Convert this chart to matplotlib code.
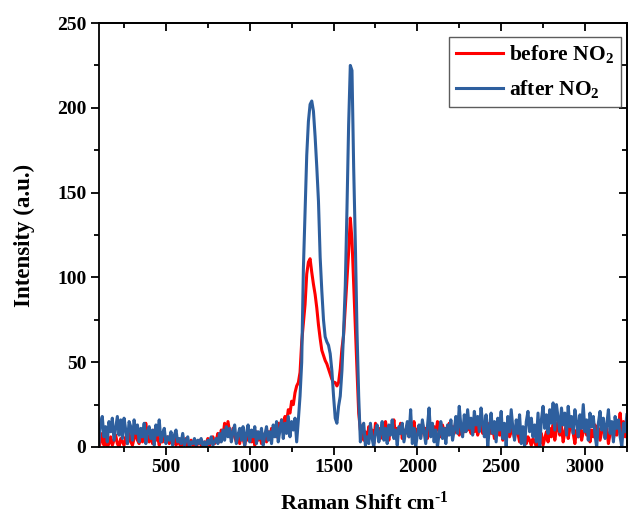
import numpy as np
import matplotlib
matplotlib.use("Agg")
import matplotlib.pyplot as plt
from matplotlib.ticker import MultipleLocator

# Raman shift sampling grid (cm^-1), one value every 10 cm^-1 from 100 to 3250
raman_shift = np.arange(100, 3251, 10)

# Intensity before NO2 exposure (red)
before_no2 = [
    0, 3, 8, 1, 5, 0, 2, 6, 1, 4,
    7, 2, 0, 5, 3, 1, 6, 2, 8, 3,
    1, 5, 9, 4, 2, 7, 3, 11, 14, 6,
    3, 8, 2, 10, 4, 6, 1, 5, 3, 7,
    4, 6, 2, 5, 3, 7, 1, 4, 2, 0,
    3, 1, 5, 0, 2, 4, 1, 3, 0, 2,
    4, 1, 0, 3, 2, 5, 1, 3, 6, 2,
    4, 8, 3, 10, 6, 14, 8, 15, 9, 5,
    11, 6, 3, 8, 2, 9, 5, 1, 7, 4,
    8, 3, 6, 1, 9, 4, 7, 2, 5, 8,
    3, 9, 5, 11, 7, 12, 6, 14, 10, 16,
    13, 18, 15, 22, 20, 27, 25, 32, 36, 38,
    44, 62, 73, 84, 102, 109, 111, 103, 96, 90,
    82, 72, 64, 57, 54, 51, 49, 46, 43, 40,
    38, 38, 36, 38, 46, 58, 66, 82, 98, 115,
    135, 122, 96, 70, 45, 20, 10, 7, 4, 9,
    3, 12, 6, 10, 2, 14, 8, 11, 5, 13,
    7, 15, 9, 4, 12, 8, 16, 6, 11, 9,
    14, 5, 10, 8, 13, 6, 11, 9, 15, 7,
    10, 12, 6, 14, 8, 11, 5, 13, 9, 7,
    12, 8, 15, 10, 6, 13, 9, 11, 7, 14,
    9, 12, 8, 16, 10, 7, 13, 11, 9, 14,
    10, 15, 8, 12, 9, 13, 7, 11, 14, 8,
    12, 6, 10, 14, 8, 11, 5, 9, 13, 7,
    10, 4, 12, 8, 14, 6, 9, 11, 5, 13,
    8, 3, 10, 5, 7, 2, 6, 4, 1, 5,
    3, 0, 6, 2, 8, 1, 5, 9, 3, 11,
    6, 13, 4, 10, 15, 7, 12, 3, 9, 14,
    5, 11, 16, 8, 2, 10, 6, 13, 4, 9,
    12, 7, 15, 3, 10, 6, 13, 8, 11, 4,
    9, 14, 6, 11, 2, 8, 13, 5, 10, 7,
    12, 20, 8, 15, 6, 11,
]

# Intensity after NO2 exposure (blue)
after_no2 = [
    2, 14, 18, 6, 12, 3, 15, 9, 17, 4,
    11, 18, 7, 16, 5, 17, 10, 2, 15, 12,
    4, 16, 8, 13, 3, 11, 6, 14, 2, 9,
    12, 5, 10, 1, 13, 7, 16, 3, 8, 11,
    2, 6, 4, 9, 1, 7, 10, 3, 5, 2,
    8, 1, 4, 6, 0, 3, 2, 5, 1, 4,
    2, 5, 1, 3, 0, 4, 2, 6, 1, 3,
    5, 2, 8, 3, 10, 4, 12, 6, 11, 3,
    9, 13, 2, 7, 11, 4, 12, 1, 8, 13,
    3, 10, 6, 12, 2, 9, 5, 11, 1, 7,
    12, 4, 9, 2, 13, 6, 15, 3, 10, 16,
    5, 14, 8, 18, 6, 15, 10, 17, 3, 16,
    30, 50, 105, 138, 172, 192, 202, 204, 198, 183,
    165, 145, 112, 92, 75, 65, 62, 60, 55, 45,
    30, 17, 14, 24, 30, 45, 68, 95, 140, 190,
    225, 222, 165, 120, 68, 30, 3, 12, 14, 1,
    6, 2, 14, 5, 0, 9, 13, 3, 8, 15,
    4, 11, 2, 13, 7, 16, 5, 10, 1, 12,
    8, 14, 3, 9, 15, 6, 22, 2, 11, 0,
    7, 13, 5, 16, 9, 2, 12, 23, 6, 14,
    3, 10, 0, 8, 15, 5, 11, 2, 13, 7,
    16, 4, 10, 18, 8, 24, 12, 6, 19, 9,
    22, 11, 17, 7, 21, 13, 18, 9, 23, 14,
    6, 19, 0, 12, 20, 8, 15, 3, 17, 10,
    21, 5, 14, 0, 18, 9, 22, 11, 4, 16,
    8, 19, 2, 12, 0, 15, 21, 9, 17, 6,
    13, 3, 20, 0, 16, 24, 11, 19, 8, 22,
    14, 26, 10, 25, 17, 9, 23, 13, 20, 7,
    24, 12, 18, 8, 22, 15, 6, 19, 11, 25,
    9, 16, 4, 20, 12, 18, 7, 0, 14, 21,
    10, 17, 5, 13, 22, 8, 15, 3, 18, 11,
    16, 6, 0, 14, 9, 19,
]

x_ticks = [500, 1000, 1500, 2000, 2500, 3000]
y_ticks = [0, 50, 100, 150, 200, 250]

plt.rcParams['font.family'] = ['Liberation Serif', 'DejaVu Serif']
plt.rcParams['font.weight'] = 'bold'
plt.rcParams['mathtext.fontset'] = 'custom'
plt.rcParams['mathtext.rm'] = 'Liberation Serif:bold'
plt.rcParams['mathtext.default'] = 'rm'

fig = plt.figure(figsize=(6.30, 5.17), dpi=100)
ax = fig.add_axes([0.157, 0.1354, 0.838, 0.8201])

ax.plot(raman_shift, before_no2, color='#ff0000', lw=2.2, label='before NO$_2$')
ax.plot(raman_shift, after_no2, color='#2e5f9e', lw=2.2, label='after NO$_2$')

ax.set_xlim(100, 3250)
ax.set_ylim(0, 250)
ax.set_xticks(x_ticks)
ax.set_yticks(y_ticks)
ax.xaxis.set_minor_locator(MultipleLocator(250))
ax.yaxis.set_minor_locator(MultipleLocator(25))

ax.tick_params(axis='both', which='major', direction='out', length=6, width=1.3,
               labelsize=14, pad=3)
ax.tick_params(axis='both', which='minor', direction='out', length=3.5, width=1.3)
for lab in ax.get_xticklabels() + ax.get_yticklabels():
    lab.set_fontweight('bold')

# mirrored inward ticks on top and right
axt = ax.secondary_xaxis('top')
axt.set_xticks(x_ticks)
axt.xaxis.set_minor_locator(MultipleLocator(250))
axt.tick_params(which='major', direction='in', length=6, width=1.3, labeltop=False)
axt.tick_params(which='minor', direction='in', length=3.5, width=1.3)
axr = ax.secondary_yaxis('right')
axr.set_yticks(y_ticks)
axr.yaxis.set_minor_locator(MultipleLocator(25))
axr.tick_params(which='major', direction='in', length=6, width=1.3, labelright=False)
axr.tick_params(which='minor', direction='in', length=3.5, width=1.3)

for s in ax.spines.values():
    s.set_linewidth(1.3)
axt.spines['top'].set_linewidth(1.3)
axr.spines['right'].set_linewidth(1.3)

ax.set_xlabel(r'Raman Shift cm$^{\text{-1}}$', fontsize=16, fontweight='bold')
ax.xaxis.label.set_va('baseline')
ax.xaxis.set_label_coords(0.502, -0.148)
ax.set_ylabel('Intensity (a.u.)', fontsize=16.5, fontweight='bold')
ax.yaxis.label.set_va('center')
ax.yaxis.label.set_ha('center')
ax.yaxis.set_label_coords(-0.141, 0.5)

leg = ax.legend(loc='upper right', bbox_to_anchor=(0.989, 0.967), borderaxespad=0,
                fontsize=15.5, frameon=True, fancybox=False, edgecolor='#333333',
                handlelength=2.2, handletextpad=0.3, borderpad=0.3, labelspacing=0.6)
leg.get_frame().set_linewidth(1.0)
for t in leg.get_texts():
    t.set_fontweight('bold')

fig.savefig('out.png', dpi=100)
